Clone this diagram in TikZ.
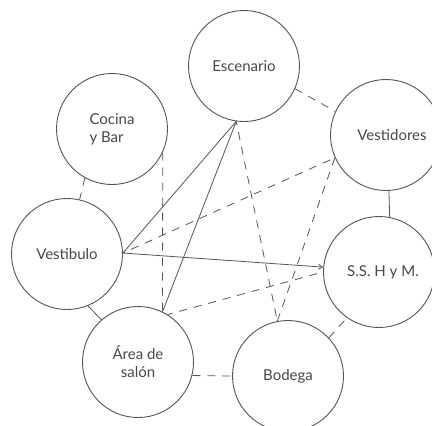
\documentclass[tikz,border=0pt]{standalone}
\usepackage{fontspec}
\setmainfont{Lato}
\usetikzlibrary{arrows.meta}
\definecolor{ink}{HTML}{555555}
\definecolor{txt}{HTML}{484848}
\tikzset{
  room/.style={circle,draw=ink,line width=0.9pt,minimum size=111pt,inner sep=0pt,font=\fontsize{15}{18}\selectfont,text=txt,align=center},
  solidlink/.style={draw=ink,line width=0.8pt},
  dashlink/.style={draw=ink,line width=0.8pt,dash pattern=on 8pt off 7pt},
  tip/.style={-{Straight Barb[length=4pt,width=5pt]}}
}
\begin{document}
\begin{tikzpicture}[x=1pt,y=-1pt]
\useasboundingbox[fill=white] (0,0) rectangle (432,426);
\node[room] (esc) at (244,66) {Escenario};
\node[room,align=left] (coc) at (112,129) {Cocina\\y Bar};
\node[room] (vdr) at (386,135) {\hspace*{12pt}Vestidores};
\node[room] (vbl) at (67,254) {Vestibulo};
\node[room] (ss) at (379,272) {\hspace*{8pt}S.S. H y M.};
\node[room] (are) at (138,362) {Área de\\salón};
\node[room] (bod) at (288,376) {Bodega};
% short links between neighbours
\draw[dashlink] (coc.-119) -- (vbl.77);
\draw[solidlink] (vbl.-68) -- (are.131);
\draw[dashlink] (are.-14) -- (bod.180);
\draw[dashlink] (bod.43) -- (ss.-125);
\draw[solidlink] (vdr.-87) -- (ss.79);
\draw[dashlink] (esc.-24) -- (vdr.155);
% long links
\draw[dashlink] (coc.-25) -- (are.64);
\draw[solidlink] (vbl.1) -- (esc.-98);
\draw[solidlink] (are.64) -- (esc.-98);
\draw[solidlink,tip] (vbl.1) -- (ss.175);
\draw[dashlink,dash phase=6pt] (vbl.1) -- (vdr.204);
\draw[dashlink,dash phase=4pt] (esc.-98) -- (bod.101);
\draw[dashlink] (vdr.204) -- (bod.101);
\draw[dashlink,dash phase=3pt] (are.58) -- (ss.180);
\end{tikzpicture}
\end{document}
